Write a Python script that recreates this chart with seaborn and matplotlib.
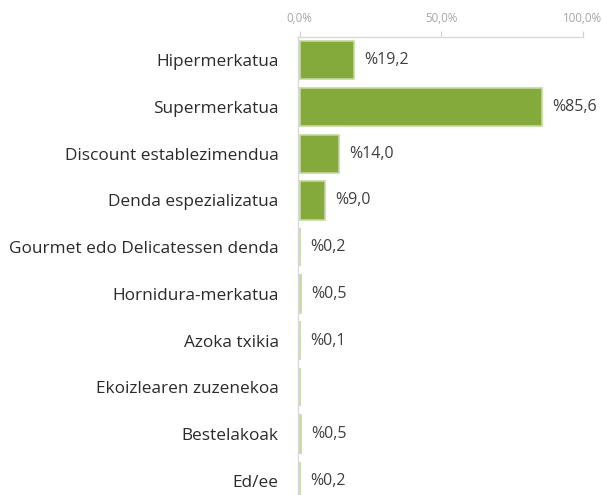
import numpy as np
import pandas as pd
import seaborn as sns
import matplotlib.pyplot as plt
from matplotlib.ticker import FixedLocator

# datuak
kategoriak = ["Hipermerkatua", "Supermerkatua", "Discount establezimendua",
              "Denda espezializatua", "Gourmet edo Delicatessen denda",
              "Hornidura-merkatua", "Azoka txikia", "Ekoizlearen zuzenekoa",
              "Bestelakoak", "Ed/ee"]
balioak = [19.2, 85.6, 14.0, 9.0, 0.2, 0.5, 0.1, 0.0, 0.5, 0.2]
etiketak = ["%19,2", "%85,6", "%14,0", "%9,0", "%0,2", "%0,5", "%0,1", "", "%0,5", "%0,2"]
x_ticks = [0, 50, 100]
x_tick_labels = ["0,0%", "50,0%", "100,0%"]

df = pd.DataFrame({"kategoria": kategoriak, "balioa": balioak})

sns.set_style("white")
plt.rcParams['font.family'] = ['Open Sans', 'DejaVu Sans']

fig = plt.figure(figsize=(6.03, 4.95), dpi=100)
ax = fig.add_axes([298 / 603, 1 - 504 / 495, (583 - 298) / 603, (504 - 37) / 495])

berdea = "#84aa3c"
sns.barplot(data=df, y="kategoria", x="balioa", orient="h", color=berdea,
            saturation=1, width=0.82, edgecolor="#c4d9a0", linewidth=1.2,
            zorder=3, ax=ax)

for i, (v, t) in enumerate(zip(balioak, etiketak)):
    if t:
        ax.text(v + 3.5, i, t, va="center", ha="left", fontsize=11.5, color="#404040")

ax.set_xlim(-0.6, 100)
ax.set_ylim(len(kategoriak) - 0.5, -0.5)
ax.xaxis.tick_top()
ax.set_xticks(x_ticks)
ax.set_xticklabels(x_tick_labels, fontsize=8.3, color="#a6a6a6")
ax.tick_params(axis="x", direction="out", length=4, color="#d0d0d0", pad=4.5)
ax.set_yticks(range(len(kategoriak)))
ax.set_yticklabels(kategoriak, fontsize=12.4, color="#2b2b2b")
ax.tick_params(axis="y", which="major", length=0, pad=14)
ax.yaxis.set_minor_locator(FixedLocator(np.arange(-0.5, len(kategoriak), 1)))
ax.tick_params(axis="y", which="minor", direction="out", length=5, color="#d0d0d0", width=1)
ax.set_xlabel("")
ax.set_ylabel("")

for s in ["right", "bottom"]:
    ax.spines[s].set_visible(False)
for s in ["top", "left"]:
    ax.spines[s].set_color("#d9d9d9")
    ax.spines[s].set_linewidth(1)

fig.savefig("out.png", dpi=100)
